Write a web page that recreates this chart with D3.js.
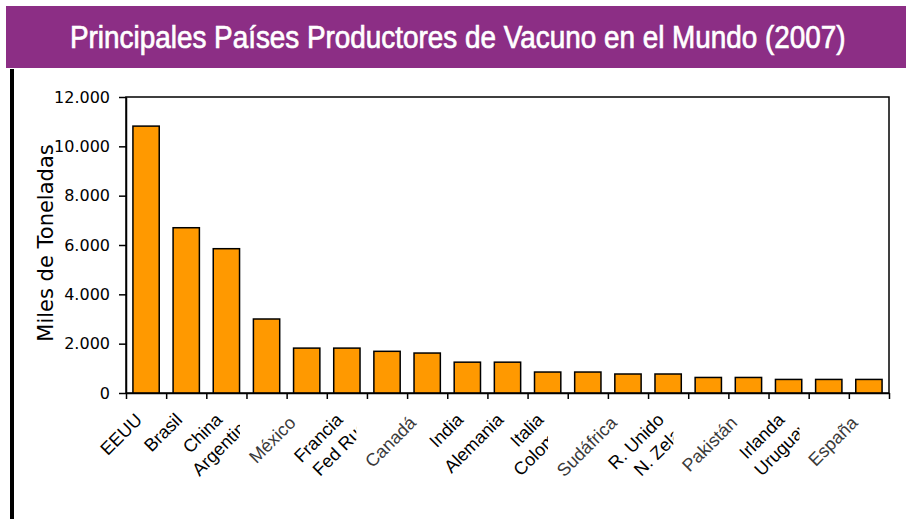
<!DOCTYPE html>
<html>
<head>
<meta charset="utf-8">
<script src="https://cdn.jsdelivr.net/npm/d3@7"></script>
<style>
  body { margin: 0; background: #fff; }
  svg { display: block; }
</style>
</head>
<body>
<svg id="chart"></svg>
<script>
// beef production 2007, thousand tonnes
const categories = ["EEUU", "Brasil", "China", "Argentina", "México", "Francia", "Fed Rusia", "Canadá",
  "India", "Alemania", "Italia", "Colombia", "Sudáfrica", "R. Unido", "N. Zelanda", "Pakistán",
  "Irlanda", "Uruguay", "España"];
const production = [10820, 6700, 5850, 3000, 1820, 1820, 1690, 1620,
  1250, 1250, 850, 850, 770, 770, 630, 630, 550, 550, 550];
const yTicks = [0, 2000, 4000, 6000, 8000, 10000, 12000];
// labels the original pushed down a row (and cut short)
const lowerLabels = ["Argentina", "Fed Rusia", "Colombia", "N. Zelanda", "Uruguay"];

const titleText = "Principales Países Productores de Vacuno en el Mundo (2007)";
const yTitle = "Miles de Toneladas";

const W = 906, H = 519;
const plot = { left: 126, right: 889, top: 97, bottom: 393 };

const svg = d3.select("#chart").attr("width", W).attr("height", H);

// header band
svg.append("rect")
  .attr("x", 6).attr("y", 6).attr("width", W - 6).attr("height", 62)
  .attr("fill", "#8c2e85");
const title = svg.append("text")
  .attr("fill", "#fff")
  .attr("stroke", "#fff")
  .attr("stroke-width", 0.7)
  .attr("font-family", "'Liberation Sans Narrow', 'Arial Narrow', 'Liberation Sans', sans-serif")
  .attr("font-size", 31)
  .text(titleText);
// squeeze to the narrow width of the original
const natural = title.node().getComputedTextLength();
title.attr("transform", `translate(70,48) scale(${776 / natural},1)`);

// black bar down the left side
svg.append("rect")
  .attr("x", 10).attr("y", 69).attr("width", 4).attr("height", H - 69)
  .attr("fill", "#000");

const x = d3.scaleBand()
  .domain(categories)
  .range([plot.left, plot.right])
  .paddingInner(0.345)
  .paddingOuter(0.1725);
const xIdx = d3.scaleLinear().domain([0, categories.length]).range([plot.left, plot.right]);
const y = d3.scaleLinear().domain([0, 12000]).range([plot.bottom, plot.top]);

const es = d3.formatLocale({ decimal: ",", thousands: ".", grouping: [3], currency: ["", ""] });
const fmt = es.format(",");

// frame
svg.append("rect")
  .attr("x", plot.left).attr("y", plot.top)
  .attr("width", plot.right - plot.left).attr("height", plot.bottom - plot.top)
  .attr("fill", "none").attr("stroke", "#000").attr("stroke-width", 1.5);

// bars
svg.append("g")
  .selectAll("rect")
  .data(production)
  .join("rect")
  .attr("x", (d, i) => x(categories[i]))
  .attr("y", d => y(d))
  .attr("width", x.bandwidth())
  .attr("height", d => y(0) - y(d))
  .attr("fill", "#ff9900")
  .attr("stroke", "#000")
  .attr("stroke-width", 1.5);

// y axis
const yAxis = svg.append("g")
  .attr("transform", `translate(${plot.left},0)`)
  .call(d3.axisLeft(y).tickValues(yTicks).tickFormat(fmt).tickSize(7).tickPadding(9).tickSizeOuter(0));
yAxis.select(".domain").attr("stroke-width", 1.5);
yAxis.selectAll(".tick line").attr("stroke-width", 1.5);
yAxis.selectAll(".tick text")
  .attr("font-family", "'DejaVu Sans', Verdana, sans-serif")
  .attr("font-size", 16)
  .attr("fill", "#000");

// x axis: ticks between categories
const xAxis = svg.append("g")
  .attr("transform", `translate(0,${plot.bottom})`)
  .call(d3.axisBottom(xIdx).tickValues(d3.range(categories.length + 1)).tickFormat("").tickSize(6).tickSizeOuter(0));
xAxis.select(".domain").attr("stroke-width", 1.5);
xAxis.selectAll(".tick line").attr("stroke-width", 1.5);

// y title
svg.append("text")
  .attr("transform", "translate(53,243) rotate(-90)")
  .attr("text-anchor", "middle")
  .attr("font-family", "'DejaVu Sans', Verdana, sans-serif")
  .attr("font-size", 21)
  .attr("fill", "#000")
  .text(yTitle);

// category labels, rotated
const labelFont = "'Liberation Sans', Arial, sans-serif";
const accented = s => /[^\x00-\x7F]/.test(s);   // these came out smudged and shifted in the original
const wraps = svg.append("g")
  .selectAll("g")
  .data(categories)
  .join("g");

wraps.append("text")
  .attr("font-family", labelFont)
  .attr("font-size", 18)
  .attr("fill", d => accented(d) ? "#3a3a3a" : "#000")
  .attr("text-anchor", d => lowerLabels.includes(d) ? "start" : "end")
  .attr("transform", d => {
    const cx = x(d) + x.bandwidth() / 2;
    if (lowerLabels.includes(d)) return `translate(${cx - 67},477) rotate(-45)`;
    if (accented(d)) return `translate(${cx - 10},424) rotate(-45)`;
    return `translate(${cx - 3},421) rotate(-45)`;
  })
  .text(d => d);

// cut the lower labels where the next label starts
const defs = svg.append("defs");
wraps.each(function (d, i) {
  if (!lowerLabels.includes(d)) return;
  const next = wraps.nodes()[i + 1];
  if (!next) return;
  const cut = next.getBoundingClientRect().left - 5;
  const id = "clip" + i;
  defs.append("clipPath").attr("id", id)
    .attr("clipPathUnits", "userSpaceOnUse")
    .append("rect").attr("x", 0).attr("y", 0).attr("width", cut).attr("height", H);
  d3.select(this).attr("clip-path", `url(#${id})`);
});
</script>
</body>
</html>
